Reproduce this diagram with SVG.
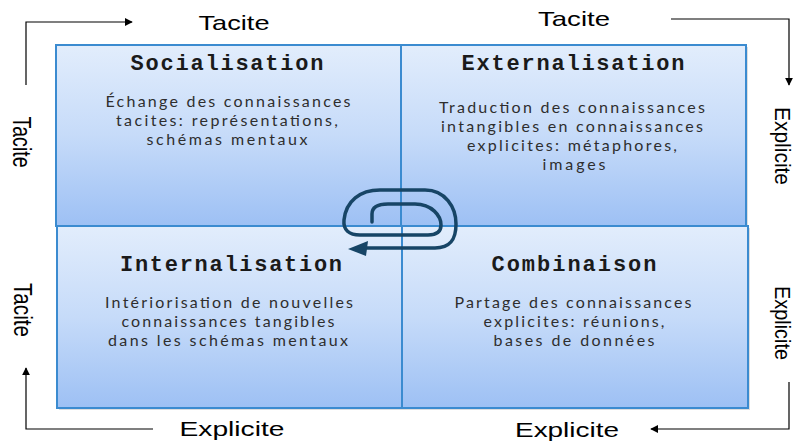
<svg xmlns="http://www.w3.org/2000/svg" width="796" height="441" viewBox="0 0 796 441">
<defs>
<linearGradient id="g" x1="0" y1="0" x2="0" y2="1">
<stop offset="0" stop-color="#e2edfc"/>
<stop offset="0.5" stop-color="#c6dbf9"/>
<stop offset="1" stop-color="#9dc0f4"/>
</linearGradient>
<marker id="ah" viewBox="0 0 10 10" refX="9" refY="5" markerWidth="8" markerHeight="8" markerUnits="userSpaceOnUse" orient="auto">
<path d="M0 0 L10 5 L0 10 Z" fill="#000"/>
</marker>
<style>
.box{fill:url(#g);stroke:#3b8bd0;stroke-width:2}
.sh{fill:#c8c8c8;opacity:0.6}
.title{font-family:"Liberation Mono","DejaVu Sans Mono",monospace;font-weight:bold;font-size:22px;fill:#1a1a1a;text-anchor:middle}
.body{font-family:Lato,"Open Sans",sans-serif;font-size:16px;fill:#2e2e2e;text-anchor:middle}
.lab{font-family:"Liberation Sans",Arial,sans-serif;font-size:21px;fill:#000;text-anchor:middle}
.conn{fill:none;stroke:#000;stroke-width:1.2}
.spiral{fill:none;stroke:#174566;stroke-width:3.5;stroke-linecap:round;stroke-linejoin:round}
</style>
</defs>
<rect width="796" height="441" fill="#fff"/>

<g id="socialisation">
<rect class="sh" x="58" y="47" width="345" height="181"/>
<rect class="box" x="56" y="45" width="345" height="181"/>
<text class="title" x="227" y="70" textLength="193" lengthAdjust="spacing">Socialisation</text>
<text class="body" x="228" y="107" textLength="245" lengthAdjust="spacing">Échange des connaissances</text>
<text class="body" x="227" y="126" textLength="222" lengthAdjust="spacing">tacites: représentations,</text>
<text class="body" x="227" y="145" textLength="161" lengthAdjust="spacing">schémas mentaux</text>
</g>

<g id="externalisation">
<rect class="sh" x="403" y="47" width="345" height="181"/>
<rect class="box" x="401" y="45" width="345" height="181"/>
<text class="title" x="573" y="70" textLength="223" lengthAdjust="spacing">Externalisation</text>
<text class="body" x="572" y="113" textLength="266" lengthAdjust="spacing">Traduction des connaissances</text>
<text class="body" x="572" y="132" textLength="262" lengthAdjust="spacing">intangibles en connaissances</text>
<text class="body" x="572" y="151" textLength="210" lengthAdjust="spacing">explicites: métaphores,</text>
<text class="body" x="574" y="170" textLength="63" lengthAdjust="spacing">images</text>
</g>

<g id="internalisation">
<rect class="sh" x="59" y="228" width="345" height="182"/>
<rect class="box" x="57" y="226" width="345" height="182"/>
<text class="title" x="231" y="271" textLength="222" lengthAdjust="spacing">Internalisation</text>
<text class="body" x="229" y="308" textLength="248" lengthAdjust="spacing">Intériorisation de nouvelles</text>
<text class="body" x="228" y="327" textLength="213" lengthAdjust="spacing">connaissances tangibles</text>
<text class="body" x="228" y="346" textLength="240" lengthAdjust="spacing">dans les schémas mentaux</text>
</g>

<g id="combinaison">
<rect class="sh" x="404" y="228" width="346" height="182"/>
<rect class="box" x="402" y="226" width="346" height="182"/>
<text class="title" x="574" y="271" textLength="165" lengthAdjust="spacing">Combinaison</text>
<text class="body" x="573" y="308" textLength="237" lengthAdjust="spacing">Partage des connaissances</text>
<text class="body" x="574" y="327" textLength="181" lengthAdjust="spacing">explicites: réunions,</text>
<text class="body" x="574" y="346" textLength="161" lengthAdjust="spacing">bases de données</text>
</g>

<g id="spiral">
<path class="spiral" d="M372 222 L372 214 C372 207 377 204 388 204 L415 204 C432 204 441 216 441 225 C441 232 436 235 428 235 L360 235 C349 235 343 230 344 220 C346 201 360 190 380 190 L425 190 C445 190 456 207 456 224 C456 240 450 248 435 248 L364 248"/>
<path d="M348 249 L368 241 L366 256 Z" fill="#174566"/>
</g>

<g id="connectors">
<path class="conn" d="M26 85 V22 H132" marker-end="url(#ah)"/>
<path class="conn" d="M671 19 H789 V85" marker-end="url(#ah)"/>
<path class="conn" d="M153 429 H26 V368" marker-end="url(#ah)"/>
<path class="conn" d="M789 382 V429 H651" marker-end="url(#ah)"/>
</g>

<g id="labels">
<text class="lab" x="234" y="30" textLength="71" lengthAdjust="spacingAndGlyphs">Tacite</text>
<text class="lab" x="574" y="26" textLength="72" lengthAdjust="spacingAndGlyphs">Tacite</text>
<text class="lab" x="232" y="436" textLength="105" lengthAdjust="spacingAndGlyphs">Explicite</text>
<text class="lab" x="567" y="437" textLength="104" lengthAdjust="spacingAndGlyphs">Explicite</text>
<text class="lab" style="font-size:26px" transform="translate(13 142) rotate(90)" textLength="51" lengthAdjust="spacingAndGlyphs">Tacite</text>
<text class="lab" style="font-size:26px" transform="translate(14 310) rotate(90)" textLength="54" lengthAdjust="spacingAndGlyphs">Tacite</text>
<text class="lab" style="font-size:22px" transform="translate(775 146) rotate(90)" textLength="78" lengthAdjust="spacingAndGlyphs">Explicite</text>
<text class="lab" style="font-size:22px" transform="translate(775 323) rotate(90)" textLength="74" lengthAdjust="spacingAndGlyphs">Explicite</text>
</g>
</svg>
